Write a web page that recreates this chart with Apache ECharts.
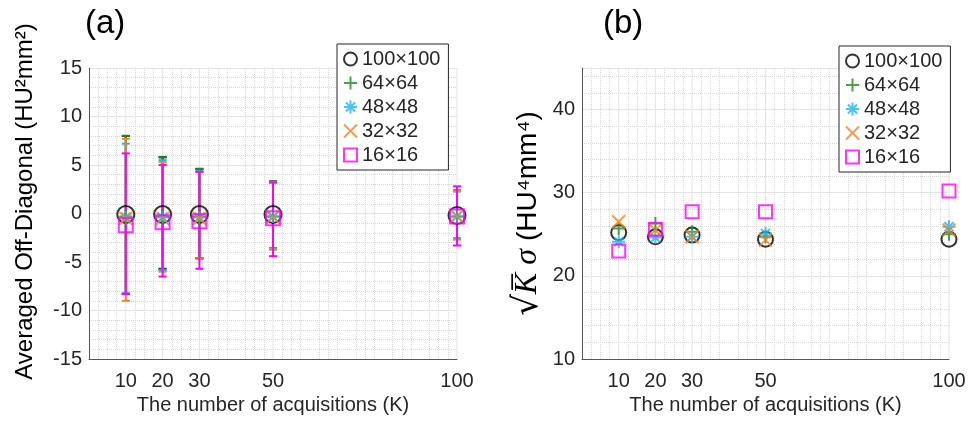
<!DOCTYPE html>
<html>
<head>
<meta charset="utf-8">
<script src="https://cdn.jsdelivr.net/npm/echarts@6/dist/echarts.min.js"></script>
<style>
  html, body { margin: 0; padding: 0; background: #fff; }
  #chart { width: 969px; height: 435px; }
</style>
</head>
<body>
<div id="chart"></div>
<script>
// acquisitions and tick labels
const K = [10, 20, 30, 50, 100];
const xTicks = [10, 20, 30, 50, 100];
const sizes = ['100×100', '64×64', '48×48', '32×32', '16×16'];

// (a) averaged off-diagonal: mean, lower and upper end of the error bar
const off100 = [-0.1, -0.1, -0.1, -0.1, -0.2];
const off100Lo = [-8.3, -5.7, -4.6, -3.6, -2.6];
const off100Hi = [8.0, 5.8, 4.6, 3.3, 2.3];
const off64 = [-0.3, -0.3, -0.3, -0.3, -0.3];
const off64Lo = [-8.3, -5.8, -4.6, -3.7, -2.6];
const off64Hi = [8.0, 5.8, 4.6, 3.3, 2.4];
const off48 = [-0.4, -0.4, -0.4, -0.3, -0.3];
const off48Lo = [-8.2, -5.8, -4.6, -3.6, -2.6];
const off48Hi = [7.2, 5.5, 4.4, 3.2, 2.3];
const off32 = [-0.5, -0.5, -0.5, -0.4, -0.3];
const off32Lo = [-9.0, -6.0, -4.7, -3.7, -2.7];
const off32Hi = [7.7, 5.3, 4.3, 3.2, 2.3];
const off16 = [-1.2, -0.9, -0.8, -0.5, -0.3];
const off16Lo = [-8.3, -6.5, -5.7, -4.4, -3.3];
const off16Hi = [6.2, 5.0, 4.3, 3.2, 2.8];

// (b) sqrt(K) sigma
const sig100 = [25.2, 24.7, 24.9, 24.4, 24.4];
const sig64 = [25.7, 26.3, 25.3, 24.7, 25.0];
const sig48 = [24.1, 24.6, 24.7, 25.1, 25.9];
const sig32 = [26.5, 25.5, 24.7, 24.3, 25.5];
const sig16 = [23.0, 25.6, 27.7, 27.7, 30.2];

const font = "'Liberation Sans', Arial, sans-serif";
const colors = ['#000000', '#1b8a1b', '#1db4ee', '#f58220', '#ff00ff'];
const symbols = [
    'circle',
    'path://M0,5L10,5M5,0L5,10',
    'path://M0,5L10,5M5,0L5,10M1.5,1.5L8.5,8.5M1.5,8.5L8.5,1.5',
    'path://M0,0L10,10M0,10L10,0',
    'rect'
];
const offMeans = [off100, off64, off48, off32, off16];
const offLows = [off100Lo, off64Lo, off48Lo, off32Lo, off16Lo];
const offHighs = [off100Hi, off64Hi, off48Hi, off32Hi, off16Hi];
const sigmas = [sig100, sig64, sig48, sig32, sig16];

const chart = echarts.init(document.getElementById('chart'));

// error bar: vertical line with caps
const errRender = (params, api) => {
    const x = api.value(0);
    const lo = api.coord([x, api.value(1)]);
    const hi = api.coord([x, api.value(2)]);
    const w = 4;
    const style = { stroke: api.visual('color'), lineWidth: 2 };
    return {
        type: 'group',
        children: [
            { type: 'line', shape: { x1: lo[0], y1: lo[1], x2: hi[0], y2: hi[1] }, style },
            { type: 'line', shape: { x1: lo[0] - w, y1: lo[1], x2: lo[0] + w, y2: lo[1] }, style },
            { type: 'line', shape: { x1: hi[0] - w, y1: hi[1], x2: hi[0] + w, y2: hi[1] }, style }
        ]
    };
};

// solid vertical grid line at a tick value, full height of the grid
const gridLineRender = (params, api) => {
    const p = api.coord([api.value(0), api.value(1)]);
    const cs = params.coordSys;
    return {
        type: 'line',
        shape: { x1: p[0], y1: cs.y, x2: p[0], y2: cs.y + cs.height },
        style: { stroke: '#e3e3e3', lineWidth: 1 }
    };
};

const markerStyle = (i) => ({
    color: (i === 0 || i === 4) ? 'rgba(0,0,0,0)' : colors[i],
    borderColor: colors[i],
    borderWidth: 2
});

const xAxisCfg = (gridIndex) => ({
    gridIndex,
    type: 'value',
    min: 0,
    max: 100,
    interval: 10,
    axisLine: { show: true, onZero: false, lineStyle: { color: '#555', width: 1 } },
    axisTick: { show: false },
    axisLabel: {
        formatter: v => xTicks.includes(v) ? String(v) : '',
        fontSize: 20, color: '#262626', margin: 12, fontFamily: font
    },
    splitLine: { show: false },
    minorTick: { show: false, splitNumber: 4 },
    minorSplitLine: { show: true, lineStyle: { color: '#d6d6d6', type: 'dotted', width: 1 } },
    name: 'The number of acquisitions (K)',
    nameLocation: 'middle',
    nameGap: 35,
    nameTextStyle: { fontSize: 20, color: '#262626', fontFamily: font }
});

const series = [];
// major vertical grid lines at the tick positions
[0, 1].forEach(g => {
    series.push({
        name: 'grid' + g,
        type: 'custom',
        xAxisIndex: g,
        yAxisIndex: g,
        silent: true,
        z: 1,
        renderItem: gridLineRender,
        encode: { x: 0, y: 1 },
        data: xTicks.map(v => [v, g === 0 ? 0 : 20])
    });
});

sizes.forEach((name, i) => {
    series.push({
        name: 'eb' + i,
        type: 'custom',
        xAxisIndex: 0,
        yAxisIndex: 0,
        renderItem: errRender,
        itemStyle: { color: colors[i] },
        encode: { x: 0, y: [1, 2] },
        data: K.map((k, j) => [k, offLows[i][j], offHighs[i][j]])
    });
    series.push({
        name,
        type: 'scatter',
        xAxisIndex: 0,
        yAxisIndex: 0,
        symbol: symbols[i],
        symbolSize: i === 0 ? 17 : (i === 4 ? 14 : 13),
        itemStyle: markerStyle(i),
        data: K.map((k, j) => [k, offMeans[i][j]])
    });
});

sizes.forEach((name, i) => {
    series.push({
        name,
        type: 'scatter',
        xAxisIndex: 1,
        yAxisIndex: 1,
        symbol: symbols[i],
        symbolSize: i === 0 ? 15 : 13,
        itemStyle: markerStyle(i),
        data: K.map((k, j) => [k, sigmas[i][j]])
    });
});

const legendCfg = (left, top) => ({
    left, top,
    orient: 'vertical',
    data: sizes,
    selectedMode: false,
    backgroundColor: '#fff',
    borderColor: '#262626',
    borderWidth: 1,
    borderRadius: 0,
    padding: [5, 8, 5, 6],
    itemGap: 4,
    itemWidth: 13,
    itemHeight: 13,
    textStyle: { fontSize: 20, lineHeight: 20, color: '#262626', fontFamily: font }
});

const option = {
    animation: false,
    backgroundColor: '#fff',
    textStyle: { fontFamily: font },
    title: [
        { text: '(a)', left: 80, top: 2, textStyle: { fontSize: 33, fontWeight: 'normal', color: '#000', fontFamily: font } },
        { text: '(b)', left: 598, top: 2, textStyle: { fontSize: 33, fontWeight: 'normal', color: '#000', fontFamily: font } }
    ],
    legend: [legendCfg(337, 44), legendCfg(839, 46)],
    grid: [
        { left: 89, top: 68, width: 368, height: 291 },
        { left: 582, top: 68, width: 367, height: 291 }
    ],
    xAxis: [xAxisCfg(0), xAxisCfg(1)],
    yAxis: [
        {
            gridIndex: 0,
            type: 'value',
            min: -15,
            max: 15,
            interval: 5,
            axisLine: { show: true, onZero: false, lineStyle: { color: '#555', width: 1 } },
            axisTick: { show: false },
            axisLabel: { fontSize: 20, color: '#262626', margin: 7, fontFamily: font },
            splitLine: { show: true, lineStyle: { color: '#e3e3e3', width: 1 } },
            minorTick: { show: false, splitNumber: 5 },
            minorSplitLine: { show: true, lineStyle: { color: '#d6d6d6', type: 'dotted', width: 1 } },
            name: 'Averaged Off-Diagonal (HU²mm²)',
            nameLocation: 'middle',
            nameGap: 52,
            nameTextStyle: { fontSize: 24, color: '#000', fontFamily: font, padding: [0, 0, 0, 24] }
        },
        {
            gridIndex: 1,
            type: 'value',
            min: 10,
            max: 45,
            interval: 10,
            axisLine: { show: true, onZero: false, lineStyle: { color: '#555', width: 1 } },
            axisTick: { show: false },
            axisLabel: {
                fontSize: 20, color: '#262626', margin: 7, fontFamily: font,
                showMaxLabel: false
            },
            splitLine: { show: true, lineStyle: { color: '#e3e3e3', width: 1 } },
            minorTick: { show: false, splitNumber: 5 },
            minorSplitLine: { show: true, lineStyle: { color: '#d6d6d6', type: 'dotted', width: 1 } },
            name: '{r|√}{k|K̅}{m| σ }{u|(HU⁴mm⁴)}',
            nameLocation: 'middle',
            nameGap: 37,
            nameTextStyle: {
                color: '#000',
                rich: {
                    r: { fontSize: 34, fontFamily: "'DejaVu Serif', serif", color: '#000' },
                    k: { fontSize: 32, fontFamily: "'Liberation Serif', serif", fontStyle: 'italic', color: '#000' },
                    m: { fontSize: 32, fontFamily: "'Liberation Serif', serif", fontStyle: 'italic', color: '#000' },
                    u: { fontSize: 28, fontFamily: font, color: '#000' }
                }
            }
        }
    ],
    series
};

chart.setOption(option);
</script>
</body>
</html>
